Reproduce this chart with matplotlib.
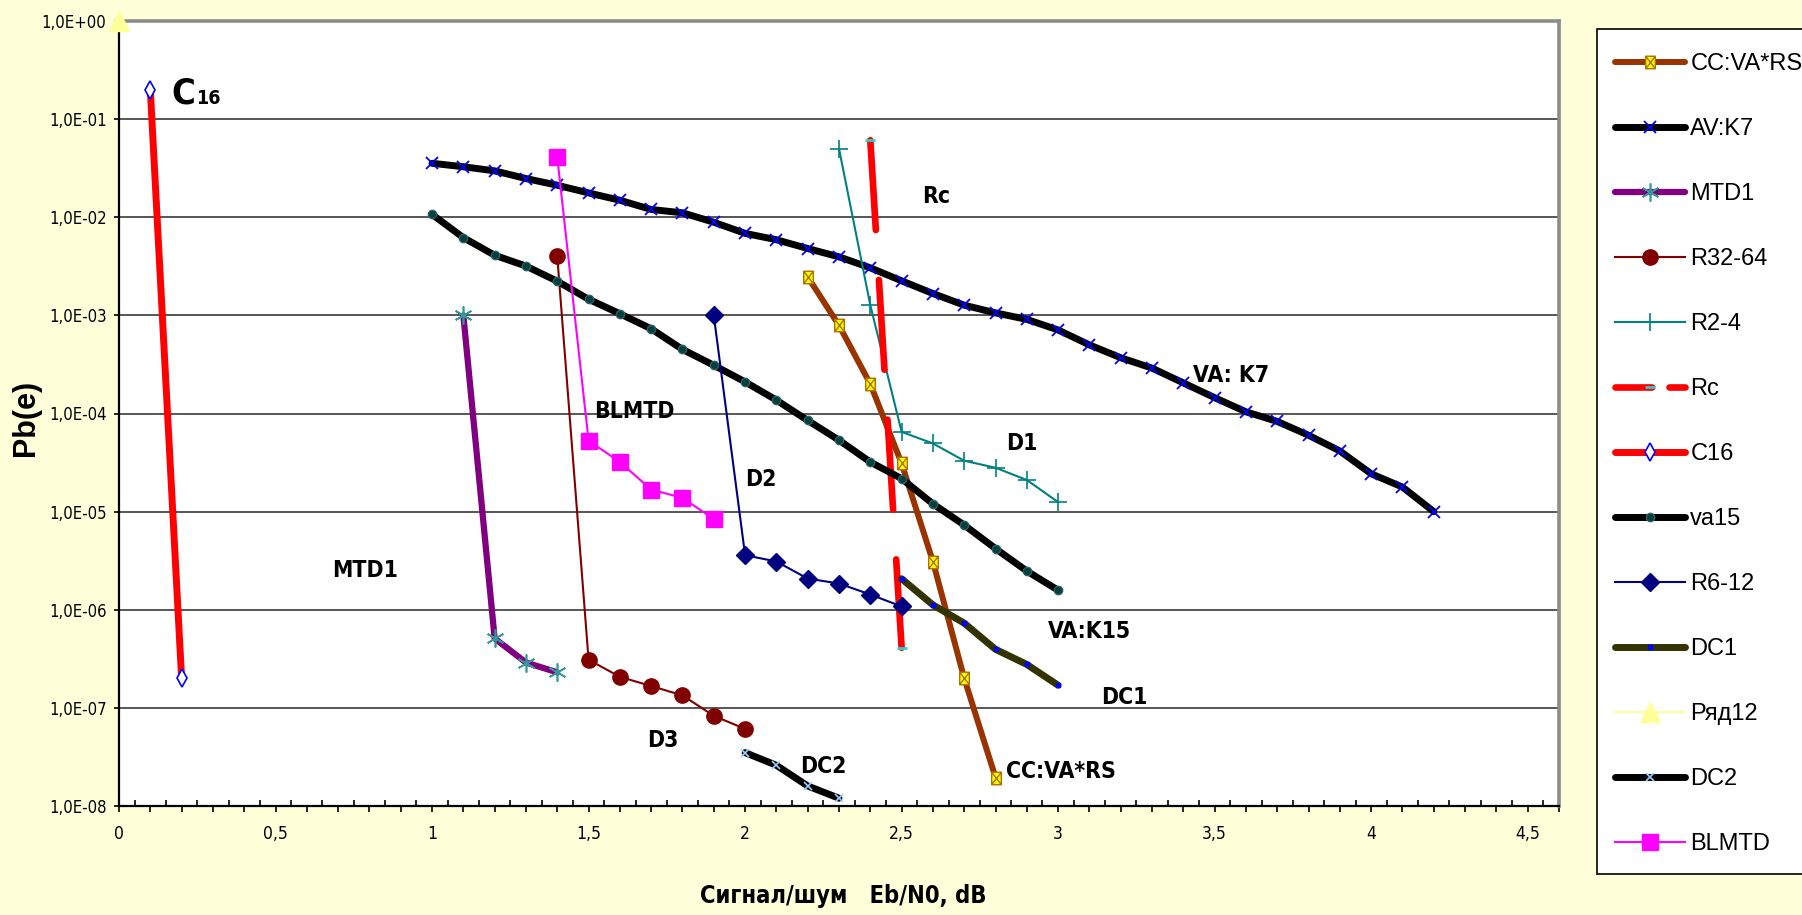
import math
import matplotlib
matplotlib.use('Agg')
import matplotlib.pyplot as plt
from matplotlib import font_manager
from matplotlib.lines import Line2D
from matplotlib.patches import Rectangle
from matplotlib.path import Path
from matplotlib.ticker import FixedLocator, FuncFormatter, MultipleLocator

# ---- data ----
cc_x = [2.2, 2.3, 2.4, 2.5, 2.6, 2.7, 2.8]
cc_y = [2.47e-3, 7.9e-4, 2.0e-4, 3.1e-5, 3.1e-6, 2.0e-7, 1.95e-8]

av_x = [1.0, 1.1, 1.2, 1.3, 1.4, 1.5, 1.6, 1.7, 1.8, 1.9, 2.0, 2.1, 2.2, 2.3, 2.4, 2.5, 2.6,
        2.7, 2.8, 2.9, 3.0, 3.1, 3.2, 3.3, 3.4, 3.5, 3.6, 3.7, 3.8, 3.9, 4.0, 4.1, 4.2]
av_y = [3.55e-2, 3.27e-2, 2.97e-2, 2.48e-2, 2.12e-2, 1.77e-2, 1.49e-2, 1.20e-2, 1.11e-2,
        8.9e-3, 6.85e-3, 5.9e-3, 4.8e-3, 3.95e-3, 3.05e-3, 2.25e-3, 1.67e-3, 1.27e-3,
        1.06e-3, 9.1e-4, 7.1e-4, 5.0e-4, 3.7e-4, 2.9e-4, 2.05e-4, 1.45e-4, 1.04e-4,
        8.3e-5, 6.0e-5, 4.15e-5, 2.43e-5, 1.78e-5, 1.0e-5]

mtd_x = [1.1, 1.2, 1.3, 1.4]
mtd_y = [1.0e-3, 5.1e-7, 2.9e-7, 2.3e-7]

r32_x = [1.4, 1.5, 1.6, 1.7, 1.8, 1.9, 2.0]
r32_y = [4.0e-3, 3.1e-7, 2.07e-7, 1.67e-7, 1.34e-7, 8.3e-8, 6.1e-8]

r24_x = [2.3, 2.4, 2.5, 2.6, 2.7, 2.8, 2.9, 3.0]
r24_y = [5.0e-2, 1.27e-3, 6.5e-5, 4.95e-5, 3.3e-5, 2.8e-5, 2.1e-5, 1.25e-5]

rc_x = [2.4, 2.5]
rc_y = [6.1e-2, 4.1e-7]

c16_x = [0.1, 0.2]
c16_y = [2.0e-1, 2.0e-7]

va15_x = [1.0, 1.1, 1.2, 1.3, 1.4, 1.5, 1.6, 1.7, 1.8, 1.9, 2.0, 2.1, 2.2, 2.3, 2.4, 2.5,
          2.6, 2.7, 2.8, 2.9, 3.0]
va15_y = [1.07e-2, 6.2e-3, 4.1e-3, 3.18e-3, 2.23e-3, 1.46e-3, 1.04e-3, 7.3e-4, 4.5e-4,
          3.1e-4, 2.1e-4, 1.37e-4, 8.5e-5, 5.35e-5, 3.2e-5, 2.17e-5, 1.2e-5, 7.3e-6,
          4.2e-6, 2.48e-6, 1.58e-6]

r612_x = [1.9, 2.0, 2.1, 2.2, 2.3, 2.4, 2.5]
r612_y = [1.0e-3, 3.6e-6, 3.1e-6, 2.08e-6, 1.85e-6, 1.43e-6, 1.08e-6]

dc1_x = [2.5, 2.6, 2.7, 2.8, 2.9, 3.0]
dc1_y = [2.07e-6, 1.12e-6, 7.3e-7, 3.95e-7, 2.77e-7, 1.7e-7]

row12_x = [0.0]
row12_y = [1.0]

dc2_x = [2.0, 2.1, 2.2, 2.3]
dc2_y = [3.5e-8, 2.6e-8, 1.6e-8, 1.2e-8]

bl_x = [1.4, 1.5, 1.6, 1.7, 1.8, 1.9]
bl_y = [4.1e-2, 5.3e-5, 3.2e-5, 1.68e-5, 1.38e-5, 8.4e-6]

notes = ['Rc', 'BLMTD', 'D2', 'D1', 'VA: K7', 'MTD1', 'VA:K15', 'DC1', 'D3', 'DC2', 'CC:VA*RS']
note_x = [2.61, 1.647, 2.05, 2.884, 3.552, 0.787, 3.10, 3.211, 1.738, 2.249, 3.009]
note_y = [10**-1.789, 10**-3.98, 10**-4.671, 10**-4.308, 10**-3.617, 10**-5.596,
          10**-6.217, 10**-6.897, 10**-7.329, 10**-7.599, 10**-7.646]

# ---- fonts ----
fonts = font_manager.fontManager.ttflist
names = {f.name for f in fonts}
if 'Liberation Sans Narrow' in names:
    narrow = {'family': 'Liberation Sans Narrow'}
elif any(f.name == 'DejaVu Sans' and f.stretch == 'condensed' for f in fonts):
    narrow = {'family': 'DejaVu Sans', 'stretch': 'condensed'}
else:
    narrow = {'family': 'Liberation Sans'}
plt.rcParams['font.family'] = ['Liberation Sans', 'DejaVu Sans']

W, H = 1802, 915
fig = plt.figure(figsize=(W / 100, H / 100), dpi=100, facecolor='#FFFFD9')
ax = fig.add_axes([119 / W, 1 - 806 / H, (1559 - 119) / W, (806 - 21) / H])
ax.set_facecolor('white')

# square-with-cross marker (Excel style)
sqx = Path([(-1, -1.3), (1, -1.3), (1, 1.3), (-1, 1.3), (-1, -1.3),
            (-1, -1.3), (1, 1.3), (-1, 1.3), (1, -1.3)],
           [Path.MOVETO, Path.LINETO, Path.LINETO, Path.LINETO, Path.CLOSEPOLY,
            Path.MOVETO, Path.LINETO, Path.MOVETO, Path.LINETO])

lines = []
lines += ax.plot(cc_x, cc_y, color='#993300', lw=4.3, marker=sqx, ms=9, mfc='#FFFF00',
                 mec='#B07000', mew=1.0, label='CC:VA*RS', solid_capstyle='round')
lines += ax.plot(av_x, av_y, color='black', lw=5, marker='x', ms=9, mec='#0000FF',
                 mew=1.3, label='AV:K7', solid_capstyle='round')
lines += ax.plot(mtd_x, mtd_y, color='#800080', lw=4.5, marker=(6, 2, 0), ms=13,
                 mec='#339999', mew=1.2, label='MTD1', solid_capstyle='round')
lines += ax.plot(r32_x, r32_y, color='#800000', lw=1.5, marker='o', ms=11,
                 mfc='#800000', mec='#800000', label='R32-64')
lines += ax.plot(r24_x, r24_y, color='#008080', lw=1.5, marker='+', ms=13,
                 mec='#008080', mew=1.2, label='R2-4')
lines += ax.plot(rc_x, rc_y, color='#FF0000', lw=4.8, dashes=(13.5, 7.5),
                 dash_capstyle='round', marker='_', ms=7, mec='#33CCCC', mew=2,
                 label='Rc')
lines += ax.plot(c16_x, c16_y, color='#FF0000', lw=5, marker='d', ms=9, mfc='white',
                 mec='#0000FF', mew=1.2, label='C16', solid_capstyle='round')
lines += ax.plot(va15_x, va15_y, color='black', lw=5, marker='o', ms=6, mfc='#003F3F',
                 mec='#2F5F5F', mew=1, label='va15', solid_capstyle='round')
lines += ax.plot(r612_x, r612_y, color='#000080', lw=1.5, marker='D', ms=9,
                 mfc='#000080', mec='#000080', label='R6-12')
lines += ax.plot(dc1_x, dc1_y, color='#333300', lw=5, marker='s', ms=3, mfc='#0000FF',
                 mec='#0000FF', label='DC1', solid_capstyle='round')
lines += ax.plot(row12_x, row12_y, color='#FFFF99', lw=1.5, marker='^', ms=14,
                 mfc='#FFFF99', mec='#FFFF99', label='Ряд12', clip_on=False, zorder=6)
lines += ax.plot(dc2_x, dc2_y, color='black', lw=5, marker='x', ms=6, mec='#99CCFF',
                 mew=1.2, label='DC2', solid_capstyle='round')
lines += ax.plot(bl_x, bl_y, color='#FF00FF', lw=1.5, marker='s', ms=11,
                 mfc='#FF00FF', mec='#FF00FF', label='BLMTD')

ax.set_yscale('log')
ax.set_xlim(0, 4.6)
ax.set_ylim(1e-8, 1)

ax.yaxis.set_major_locator(FixedLocator([10.0 ** k for k in range(-8, 1)]))
ax.yaxis.set_minor_locator(FixedLocator([]))


def ylab(v, pos):
    k = int(round(math.log10(v)))
    return '1,0E{}{:02d}'.format('+' if k >= 0 else '-', abs(k))


def xlab(v, pos):
    if abs(v * 2 - round(v * 2)) > 1e-6:
        return ''
    return '{:g}'.format(round(v, 1)).replace('.', ',')


ax.yaxis.set_major_formatter(FuncFormatter(ylab))
ax.xaxis.set_major_locator(MultipleLocator(0.1))
ax.xaxis.set_minor_locator(MultipleLocator(0.05))
ax.xaxis.set_major_formatter(FuncFormatter(xlab))
ax.tick_params(axis='x', which='major', direction='out', length=4, width=1.2, pad=10,
               labelsize=12.5)
ax.tick_params(axis='x', which='minor', direction='in', length=4, width=1.2)
ax.tick_params(axis='y', which='major', direction='out', length=3.5, width=1.2, pad=5.5,
               labelsize=12)
for t in ax.get_xticklabels() + ax.get_yticklabels():
    t.set(**narrow)

ax.grid(True, axis='y', color='#3A3A3A', lw=1.2)
ax.set_axisbelow(True)
for side in ('top', 'right'):
    ax.spines[side].set_color('#8C8C8C')
    ax.spines[side].set_linewidth(2.6)
for side in ('left', 'bottom'):
    ax.spines[side].set_color('black')
    ax.spines[side].set_linewidth(1.6)

# curve names written on the plot
for s, x, y in zip(notes, note_x, note_y):
    ax.text(x, y, s, ha='center', va='center', fontsize=16.5, fontweight='bold', **narrow)
ax.text(0.243, 10 ** -0.836, 'C', ha='right', va='baseline', fontsize=26,
        fontweight='bold', **narrow)
ax.text(0.247, 10 ** -0.846, '16', ha='left', va='baseline', fontsize=14,
        fontweight='bold', **narrow)

fig.text(843 / W, 1 - 896 / H, 'Сигнал/шум   Eb/N0, dB', ha='center', va='center',
         fontsize=17, fontweight='bold', **narrow)
fig.text(26 / W, 1 - 418 / H, 'Pb(e)', ha='center', va='center', rotation=90,
         fontsize=22, fontweight='bold', family='Liberation Sans')

# legend box
fig.add_artist(Rectangle((1597 / W, 1 - 874 / H), 0.2, (874 - 29) / H,
                         transform=fig.transFigure, facecolor='white',
                         edgecolor='black', lw=1.2, zorder=1))
handles = list(lines)
handles[5] = Line2D([], [], color='#FF0000', lw=4.8, dashes=(5.5, 2.6),
                    dash_capstyle='round', marker='_', ms=7, mec='#33CCCC', mew=2)
labels = [l.get_label() for l in lines]
fig.legend(handles, labels, loc='upper left', bbox_to_anchor=(1606 / W, 1 - 44 / H),
           frameon=False, prop={'family': 'Liberation Sans', 'size': 17},
           handlelength=2.95, handletextpad=0.22, labelspacing=1.82, borderpad=0.4,
           borderaxespad=0, numpoints=1)

fig.savefig('out.png', dpi=100, facecolor=fig.get_facecolor())
